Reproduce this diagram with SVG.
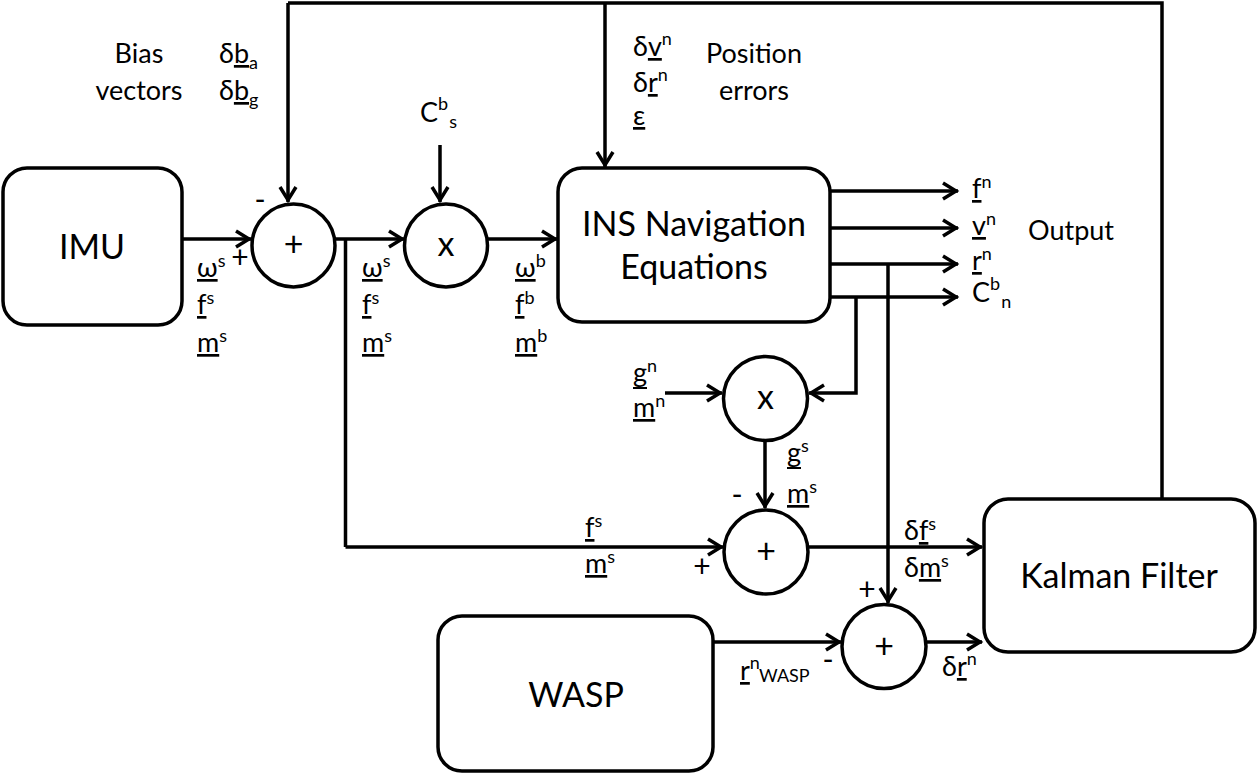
<svg xmlns="http://www.w3.org/2000/svg" width="1258" height="774" viewBox="0 0 1258 774">
<style>
text{font-family:Lato,"Open Sans","DejaVu Sans",sans-serif;fill:#000}
.big{font-size:34px;text-anchor:middle}
.lbl{font-size:27px}
.sm{font-size:18px}
.sign{font-size:30px}
.op{font-size:34px;text-anchor:middle}
.u{text-decoration:underline;text-decoration-skip-ink:none}
.ul{stroke:#000;stroke-width:2}
.box{fill:#fff;stroke:#000;stroke-width:3.5}
.circ{fill:#fff;stroke:#000;stroke-width:3.5}
.ln{fill:none;stroke:#000;stroke-width:3.5}
.arr{fill:none;stroke:#000;stroke-width:3.5;marker-end:url(#ah)}
</style>
<defs>
<marker id="ah" markerUnits="userSpaceOnUse" viewBox="-20 -12 24 24" markerWidth="24" markerHeight="24" refX="0" refY="0" orient="auto">
<path d="M-15,-8 L-2,0 L-15,8" fill="none" stroke="#000" stroke-width="3.5"/>
</marker>
</defs>

<g id="connectors">
<path class="arr" d="M182,239 H251"/>
<path class="arr" d="M335,239 H404"/>
<path class="arr" d="M487,239 H557"/>
<path class="ln" d="M345.5,239 V547"/>
<path class="arr" d="M345.5,547 H723"/>
<path class="ln" d="M1162,498 V3 H288"/>
<path class="arr" d="M288,3 V202"/>
<path class="arr" d="M605,3 V167"/>
<path class="arr" d="M440,145 V202"/>
<path class="arr" d="M830,191 H958"/>
<path class="arr" d="M830,228 H958"/>
<path class="arr" d="M830,264 H958"/>
<path class="arr" d="M830,297 H958"/>
<path class="arr" d="M856,297 V393 H809"/>
<path class="arr" d="M888,264 V603"/>
<path class="arr" d="M665,393 H722"/>
<path class="arr" d="M765,441 V508"/>
<path class="arr" d="M808,547 H982"/>
<path class="arr" d="M713,642 H841"/>
<path class="arr" d="M926,642 H982"/>
</g>

<g id="imu">
<rect class="box" x="3" y="168" width="179" height="157" rx="24"/>
<text class="big" x="92" y="259">IMU</text>
</g>
<g id="ins">
<rect class="box" x="558" y="168" width="272" height="154" rx="24"/>
<text class="big" x="694" y="236">INS Navigation</text>
<text class="big" x="694" y="279">Equations</text>
</g>
<g id="kalman">
<rect class="box" x="984" y="499" width="271" height="153" rx="24"/>
<text class="big" x="1119" y="588">Kalman Filter</text>
</g>
<g id="wasp">
<rect class="box" x="438" y="616" width="275" height="155" rx="24"/>
<text class="big" x="576" y="707">WASP</text>
</g>

<g id="sum1">
<circle class="circ" cx="293.5" cy="245.5" r="41.5"/>
<text class="op" x="293.5" y="256">+</text>
</g>
<g id="mult1">
<circle class="circ" cx="446" cy="245.5" r="41.5"/>
<text class="op" x="446" y="256">x</text>
</g>
<g id="mult2">
<circle class="circ" cx="765.5" cy="398.5" r="42"/>
<text class="op" x="765.5" y="409">x</text>
</g>
<g id="sum2">
<circle class="circ" cx="766" cy="552" r="42"/>
<text class="op" x="766" y="563">+</text>
</g>
<g id="sum3">
<circle class="circ" cx="884" cy="646.5" r="42"/>
<text class="op" x="884" y="658">+</text>
</g>

<g id="labels">
<text class="lbl" x="139" y="63" text-anchor="middle">Bias</text>
<text class="lbl" x="139" y="100" text-anchor="middle">vectors</text>
<text class="lbl" x="219" y="63">δ<tspan class="u">b</tspan><tspan class="sm" dy="6">a</tspan></text>
<text class="lbl" x="219" y="100">δ<tspan class="u">b</tspan><tspan class="sm" dy="6">g</tspan></text>

<text class="lbl" x="633" y="56">δ<tspan class="u">v</tspan><tspan class="sm" dy="-11">n</tspan></text>
<text class="lbl" x="633" y="92">δ<tspan class="u">r</tspan><tspan class="sm" dy="-11">n</tspan></text>
<text class="lbl" x="633" y="125"><tspan class="u">ε</tspan></text>
<text class="lbl" x="754" y="63" text-anchor="middle">Position</text>
<text class="lbl" x="754" y="100" text-anchor="middle">errors</text>

<text class="lbl" x="420" y="122">C<tspan class="sm" dy="-12">b</tspan><tspan class="sm" dy="18" dx="1">s</tspan></text>

<text class="sign" x="260" y="210" text-anchor="middle">-</text>
<text class="sign" x="240" y="268" text-anchor="middle">+</text>

<text class="lbl" x="197" y="277"><tspan class="u">ω</tspan><tspan class="sm" dy="-10">s</tspan></text>
<text class="lbl" x="197" y="314"><tspan class="u">f</tspan><tspan class="sm" dy="-10">s</tspan></text>
<text class="lbl" x="197" y="352"><tspan class="u">m</tspan><tspan class="sm" dy="-10">s</tspan></text>

<text class="lbl" x="362" y="277"><tspan class="u">ω</tspan><tspan class="sm" dy="-10">s</tspan></text>
<text class="lbl" x="362" y="314"><tspan class="u">f</tspan><tspan class="sm" dy="-10">s</tspan></text>
<text class="lbl" x="362" y="352"><tspan class="u">m</tspan><tspan class="sm" dy="-10">s</tspan></text>

<text class="lbl" x="515" y="277"><tspan class="u">ω</tspan><tspan class="sm" dy="-10">b</tspan></text>
<text class="lbl" x="515" y="314"><tspan class="u">f</tspan><tspan class="sm" dy="-10">b</tspan></text>
<text class="lbl" x="515" y="352"><tspan class="u">m</tspan><tspan class="sm" dy="-10">b</tspan></text>

<text class="lbl" x="972" y="198"><tspan class="u">f</tspan><tspan class="sm" dy="-10">n</tspan></text>
<text class="lbl" x="972" y="235"><tspan class="u">v</tspan><tspan class="sm" dy="-10">n</tspan></text>
<text class="lbl" x="972" y="270"><tspan class="u">r</tspan><tspan class="sm" dy="-10">n</tspan></text>
<text class="lbl" x="972" y="302">C<tspan class="sm" dy="-12">b</tspan><tspan class="sm" dy="18" dx="1">n</tspan></text>
<text class="lbl" x="1028" y="240">Output</text>

<text class="lbl" x="633" y="382">g<tspan class="sm" dy="-10">n</tspan></text>
<line class="ul" x1="633" y1="388" x2="647" y2="388"/>
<text class="lbl" x="633" y="417"><tspan class="u">m</tspan><tspan class="sm" dy="-10">n</tspan></text>

<text class="lbl" x="787" y="462">g<tspan class="sm" dy="-10">s</tspan></text>
<line class="ul" x1="787" y1="468" x2="801" y2="468"/>
<text class="lbl" x="787" y="503"><tspan class="u">m</tspan><tspan class="sm" dy="-10">s</tspan></text>
<text class="sign" x="737" y="505" text-anchor="middle">-</text>

<text class="lbl" x="585" y="537"><tspan class="u">f</tspan><tspan class="sm" dy="-10">s</tspan></text>
<text class="lbl" x="585" y="573"><tspan class="u">m</tspan><tspan class="sm" dy="-10">s</tspan></text>
<text class="sign" x="702" y="577" text-anchor="middle">+</text>

<text class="lbl" x="904" y="540">δ<tspan class="u">f</tspan><tspan class="sm" dy="-10">s</tspan></text>
<text class="lbl" x="904" y="577">δ<tspan class="u">m</tspan><tspan class="sm" dy="-10">s</tspan></text>
<text class="sign" x="867" y="600" text-anchor="middle">+</text>

<text class="lbl" x="740" y="680"><tspan class="u">r</tspan><tspan class="sm" dy="-11">n</tspan><tspan class="sm" dy="13">WASP</tspan></text>
<text class="sign" x="828" y="670" text-anchor="middle">-</text>
<text class="lbl" x="942" y="676">δ<tspan class="u">r</tspan><tspan class="sm" dy="-11">n</tspan></text>
</g>
</svg>
